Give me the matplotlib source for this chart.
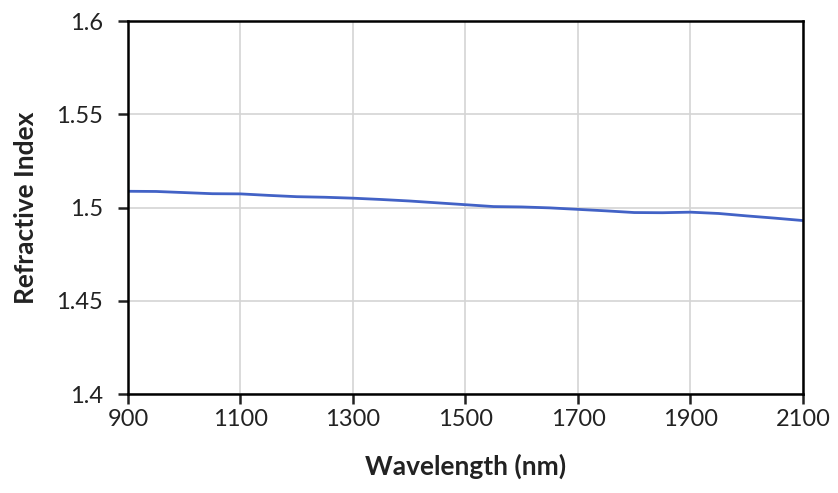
import numpy as np
import matplotlib
matplotlib.use('Agg')
import matplotlib.pyplot as plt

plt.rcParams['font.family'] = ['Lato', 'DejaVu Sans']

wavelength = [900, 950, 1000, 1050, 1100, 1150, 1200, 1250, 1300, 1350, 1400, 1450,
              1500, 1550, 1600, 1650, 1700, 1750, 1800, 1850, 1900, 1950, 2000, 2050, 2100]
ref_index = [1.5087, 1.5086, 1.5080, 1.5074, 1.5073, 1.5065, 1.5058, 1.5055, 1.5050,
             1.5043, 1.5035, 1.5025, 1.5015, 1.5005, 1.5003, 1.4998, 1.4990, 1.4982,
             1.4973, 1.4972, 1.4975, 1.4968, 1.4955, 1.4943, 1.4930]

xticks = [900, 1100, 1300, 1500, 1700, 1900, 2100]
yticks = [1.4, 1.45, 1.5, 1.55, 1.6]
ytick_labels = ['1.4', '1.45', '1.5', '1.55', '1.6']

fig = plt.figure(figsize=(8.38, 4.93), dpi=100)
ax = fig.add_axes([0.1527, 0.2008, 0.8055, 0.7566])

ax.plot(wavelength, ref_index, color='#4262c6', linewidth=2)

ax.set_xlim(900, 2100)
ax.set_ylim(1.4, 1.6)
ax.set_xticks(xticks)
ax.set_yticks(yticks)
ax.set_yticklabels(ytick_labels)
ax.grid(True, color='#d4d4d4', linewidth=1.2)
ax.set_axisbelow(True)

for s in ax.spines.values():
    s.set_linewidth(1.8)
    s.set_color('black')
ax.tick_params(axis='both', direction='out', length=7, width=1.8, labelsize=17, colors='#222222')
ax.tick_params(axis='x', pad=4)
ax.tick_params(axis='y', pad=11)

ax.set_xlabel('Wavelength (nm)', fontsize=19, fontweight='bold', color='#222222')
ax.set_ylabel('Refractive Index', fontsize=19, fontweight='bold', color='#222222')
ax.xaxis.set_label_coords(0.5, -0.16)
ax.yaxis.set_label_coords(-0.133, 0.5)

fig.savefig('out.png', dpi=100)
